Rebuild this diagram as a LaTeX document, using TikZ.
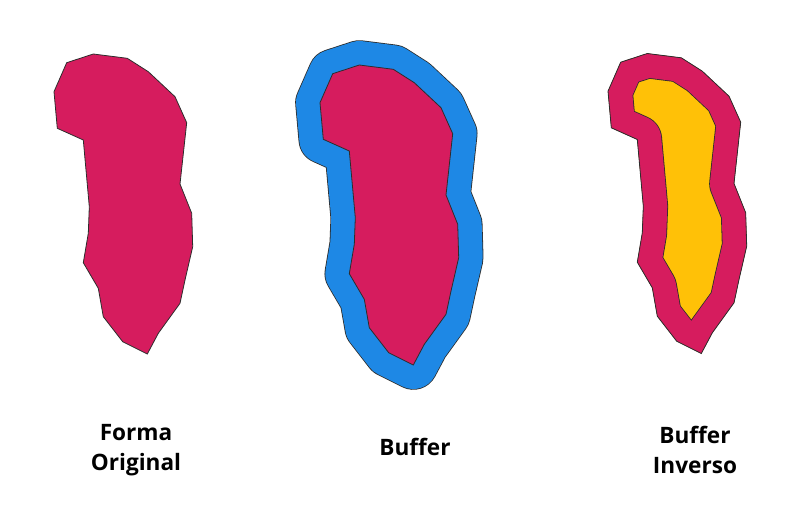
\documentclass[tikz,border=0pt]{standalone}
\usepackage{fontspec}
\setmainfont{Open Sans}
\usetikzlibrary{calc,positioning}

\definecolor{rosa}{RGB}{214,28,94}
\definecolor{azul}{RGB}{30,136,229}
\definecolor{amarelo}{RGB}{255,193,7}
\definecolor{contorno}{RGB}{45,45,45}

% the original polygon, in pixels
\newcommand{\forma}{(66.7,62.7) -- (93.3,54) -- (127.3,58.3) -- (148.3,71.7)
  -- (175,96.7) -- (186.7,122.7) -- (180,184) -- (191.7,213.3) -- (192.7,246.7)
  -- (185,280) -- (180,303.3) -- (158.3,333.3) -- (147.3,354) -- (122.7,341.7)
  -- (103.3,316.7) -- (98.3,288.3) -- (83.3,262.7) -- (88.3,233.3)
  -- (89.3,206.7) -- (83.3,140) -- (57.3,128.3) -- (54,91.7) -- cycle}

\tikzset{
  borda/.style={draw=contorno, line width=0.8pt},
  faixa/.style={line width=48pt, line join=round},
  rotulo/.style={align=center, font=\bfseries\fontsize{22.6}{30}\selectfont}
}

\begin{document}
\begin{tikzpicture}[x=1pt,y=-1pt]
\useasboundingbox (0,0) rectangle (800,514);

% forma original
\fill[rosa, borda] \forma;

% buffer
\begin{scope}[shift={(266,11)}]
\draw[faixa, contorno, line width=49.6pt] \forma;
\draw[faixa, azul] \forma;
\fill[rosa, borda] \forma;
\end{scope}

% buffer inverso
\begin{scope}[shift={(554,-0.5)}]
\fill[amarelo] \forma;
\begin{scope}
\clip \forma;
\draw[faixa, contorno, line width=49.6pt] \forma;
\draw[faixa, rosa] \forma;
\end{scope}
\draw[borda] \forma;
\end{scope}

\node[rotulo] (original) at (136,450) {Forma\\Original};
\node[rotulo] (buffer) at (415,447) {Buffer};
\node[rotulo] (inverso) at (695,450) {Buffer\\Inverso};
\end{tikzpicture}
\end{document}
